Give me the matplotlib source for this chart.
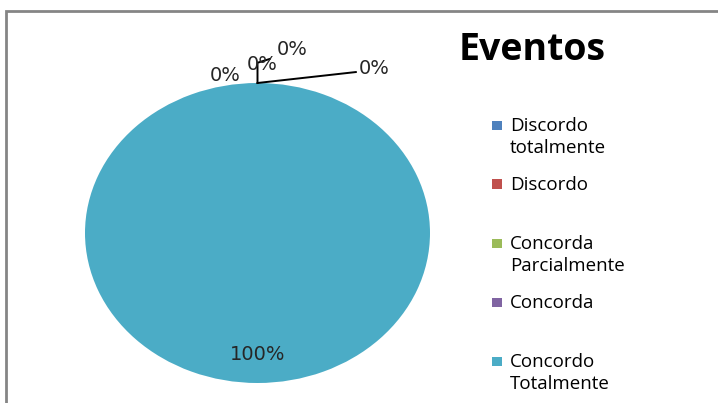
import matplotlib.pyplot as plt
from matplotlib.patches import Rectangle

categorias = ['Discordo\ntotalmente', 'Discordo', 'Concorda\nParcialmente', 'Concorda', 'Concordo\nTotalmente']
valores = [0, 0, 0, 0, 100]
cores = ['#4F81BD', '#C0504D', '#9BBB59', '#8064A2', '#4BACC6']
titulo = 'Eventos'

W, H = 718, 403
fig = plt.figure(figsize=(W / 100, H / 100), dpi=100)
fonte = ['Open Sans', 'DejaVu Sans']


def fx(px):
    return px / W


def fy(py):
    return 1 - py / H


# moldura cinza (cortada na direita e em baixo)
fig.patches.append(Rectangle((fx(6), fy(430)), fx(760), fy(11) - fy(430),
                             transform=fig.transFigure, fill=False,
                             edgecolor='#858585', linewidth=2))

# pizza um pouco achatada, como no original
ax = fig.add_axes([fx(85), fy(383), fx(345), (300 / H)])
wedges, _ = ax.pie(valores, colors=cores, startangle=90, counterclock=False,
                   radius=1, wedgeprops=dict(linewidth=0))
ax.set_xlim(-1, 1)
ax.set_ylim(-1, 1)
ax.set_aspect('auto')
ax.axis('off')

tot = sum(valores)
rotulos = ['%d%%' % round(v * 100 / tot) for v in valores]
# posicoes dos rotulos (dados do eixo)
pos = [(-0.19, 1.05, None), (0.03, 1.125, [(0, 1), (0, 1.135), (0.07, 1.16)]),
       (0.20, 1.225, None), (0.585, 1.10, [(0, 1), (0.57, 1.073)]),
       (0.0, -0.81, None)]
for w, r, (x, y, linha) in zip(wedges, rotulos, pos):
    if linha:
        xs, ys = zip(*linha)
        ax.plot(xs, ys, color='black', lw=1.4, clip_on=False)
    ha = 'left' if linha and len(linha) == 2 else 'center'
    ax.text(x, y, r, ha=ha, va='center', fontsize=14, color='#262626',
            family='DejaVu Sans', clip_on=False)

fig.text(fx(532), fy(50), titulo, ha='center', va='center', fontsize=27,
         fontweight='bold', family=fonte, color='black')

# legenda manual
y0 = 125
for i, (c, lab) in enumerate(zip(cores, categorias)):
    yy = y0 + i * 59
    fig.patches.append(Rectangle((fx(492), fy(yy + 5)), fx(9.5), 9.5 / H,
                                 transform=fig.transFigure, facecolor=c, edgecolor='none'))
    fig.text(fx(510), fy(yy - 8), lab, ha='left', va='top', fontsize=13.5,
             family=fonte, color='black', linespacing=1.3)

fig.savefig('out.png', dpi=100)
